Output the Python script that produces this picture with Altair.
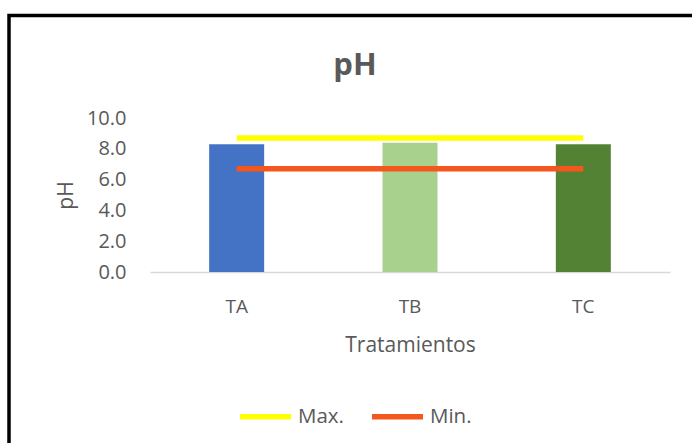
import altair as alt
import pandas as pd

# Treatments and their mean pH
tratamientos = ["TA", "TB", "TC"]
ph_medio = [8.3, 8.4, 8.3]
colores_barra = ["#4472C4", "#A9D18E", "#548235"]

# Reference limits drawn as lines across the treatments
limite_max = [8.7, 8.7, 8.7]
limite_min = [6.7, 6.7, 6.7]
series = ["Max.", "Min."]
colores_serie = ["#FFFF00", "#F4561D"]

y_ticks = [0, 2, 4, 6, 8, 10]

FONT = "Open Sans"
GRIS = "#595959"

barras_df = pd.DataFrame({"Tratamiento": tratamientos, "pH": ph_medio, "color": colores_barra})
lineas_df = pd.DataFrame({
    "Tratamiento": tratamientos * 2,
    "pH": limite_max + limite_min,
    "Serie": [series[0]] * 3 + [series[1]] * 3,
})

x_axis = alt.Axis(
    title="Tratamientos",
    labelAngle=0,
    labelFont=FONT,
    labelFontSize=19,
    labelColor=GRIS,
    labelBaseline="alphabetic",
    labelPadding=40,
    ticks=False,
    tickSize=0,
    domainColor="#D9D9D9",
    domainWidth=1.5,
    grid=False,
    titleFont=FONT,
    titleFontSize=21,
    titleFontWeight="normal",
    titleColor=GRIS,
    titleBaseline="alphabetic",
    titleY=79,
)
x_scale = alt.Scale(paddingInner=0, paddingOuter=0)

y_scale = alt.Scale(domain=[0, 10], nice=False)
y_axis = alt.Axis(
    title="pH",
    values=y_ticks,
    format=".1f",
    labelFont=FONT,
    labelFontSize=20,
    labelColor=GRIS,
    labelPadding=24,
    labelOverlap=False,
    ticks=False,
    domain=False,
    grid=False,
    titleFont=FONT,
    titleFontSize=21,
    titleFontWeight="normal",
    titleColor=GRIS,
    titleAngle=270,
    titleAlign="center",
    titleBaseline="middle",
    titleX=-84,
    titleY=77,
)

barras = alt.Chart(barras_df).mark_bar(size=55).encode(
    x=alt.X("Tratamiento:N", sort=tratamientos, scale=x_scale, axis=x_axis),
    y=alt.Y("pH:Q", scale=y_scale, axis=y_axis),
    color=alt.Color("color:N", scale=None),
)

lineas = alt.Chart(lineas_df).mark_line(strokeWidth=5.5, strokeCap="butt").encode(
    x=alt.X("Tratamiento:N", sort=tratamientos, scale=x_scale, axis=x_axis),
    y=alt.Y("pH:Q", scale=y_scale, axis=y_axis),
    color=alt.Color(
        "Serie:N",
        scale=alt.Scale(domain=series, range=colores_serie),
        legend=alt.Legend(
            title=None,
            orient="none",
            direction="horizontal",
            legendX=87,
            legendY=270,
            symbolType="stroke",
            symbolSize=2601,
            symbolStrokeWidth=5.5,
            labelFont=FONT,
            labelFontSize=20.5,
            labelColor=GRIS,
            labelOffset=4,
            columnPadding=17,
        ),
    ),
)

# Black outline around the whole figure
marco = alt.Chart(pd.DataFrame({"k": [0]})).mark_rect(
    fill=None, stroke="black", strokeWidth=3.5
).encode(
    x=alt.value(-141),
    x2=alt.value(560),
    y=alt.value(-102.5),
    y2=alt.value(360),
)

chart = (
    alt.layer(barras, lineas, marco)
    .resolve_scale(color="independent")
    .properties(
        width=520,
        height=154,
        padding={"left": 150, "top": 118, "right": 22, "bottom": 171},
        autosize=alt.AutoSizeParams(type="none"),
        background="white",
        title=alt.TitleParams(
            "pH",
            font=FONT,
            fontSize=31,
            fontWeight="bold",
            color=GRIS,
            anchor="middle",
            frame="group",
            dx=-55,
            baseline="alphabetic",
            offset=-92,
        ),
    )
    .configure_view(stroke=None)
    .configure_axisY(labelOverlap=False)
)

chart.save("out.html", embed_options={"renderer": "svg", "actions": False})
